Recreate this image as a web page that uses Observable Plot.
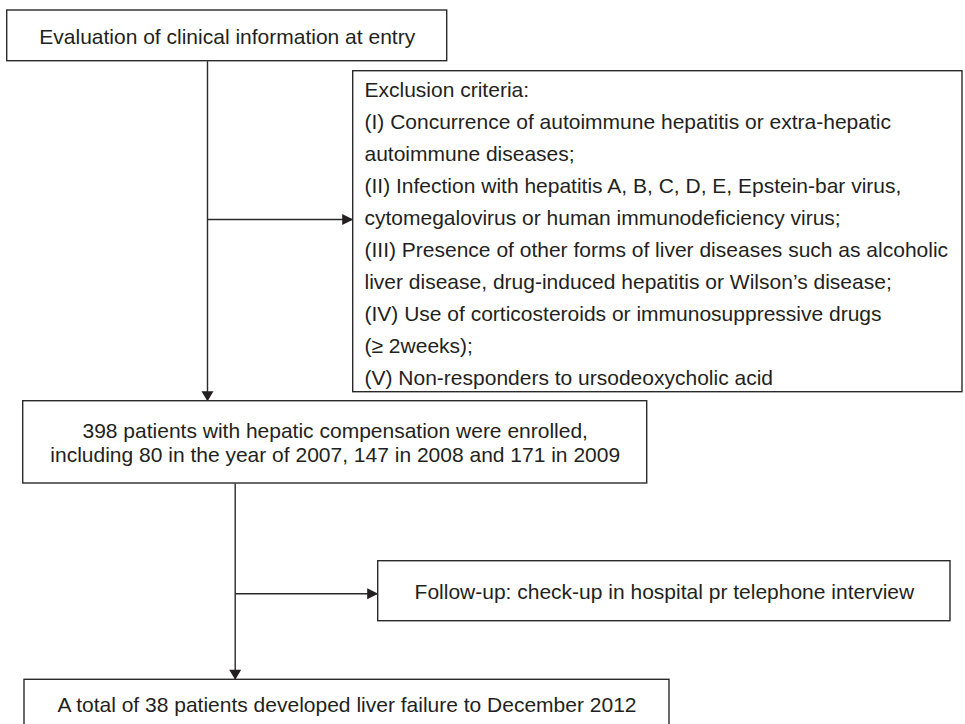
<!DOCTYPE html>
<html>
<head>
<meta charset="utf-8">
<script src="https://cdn.jsdelivr.net/npm/d3@7"></script>
<script src="https://cdn.jsdelivr.net/npm/@observablehq/plot@0.6"></script>
<style>
  html, body { margin: 0; padding: 0; background: #fff; overflow: hidden; }
  svg { display: block; overflow: hidden; }
</style>
</head>
<body>
<div id="chart"></div>
<script>
// ---- Content (texts of the flowchart) ----
const stepLabels = [
  "Evaluation of clinical information at entry",
  "398 patients with hepatic compensation were enrolled,\nincluding 80 in the year of 2007, 147 in 2008 and 171 in 2009",
  "Follow-up: check-up in hospital pr telephone interview",
  "A total of 38 patients developed liver failure to December 2012"
];
const exclusionLines = [
  "Exclusion criteria:",
  "(I) Concurrence of autoimmune hepatitis or extra-hepatic",
  "autoimmune diseases;",
  "(II) Infection with hepatitis A, B, C, D, E, Epstein-bar virus,",
  "cytomegalovirus or human immunodeficiency virus;",
  "(III) Presence of other forms of liver diseases such as alcoholic",
  "liver disease, drug-induced hepatitis or Wilson\u2019s disease;",
  "(IV) Use of corticosteroids or immunosuppressive drugs",
  "(\u2265 2weeks);",
  "(V) Non-responders to ursodeoxycholic acid"
];

// ---- Layout (page coordinates, px) ----
const stepBoxes = [
  {x1: 6.7,   x2: 446.7, y1: 10,    y2: 60.7},
  {x1: 22.7,  x2: 646.7, y1: 400.7, y2: 483},
  {x1: 377.7, x2: 950,   y1: 560.7, y2: 620.7},
  {x1: 24,    x2: 669,   y1: 679.3, y2: 740}
];
const stepTextY = [35.5, 441.5, 591, 703.5];
const exclusionBox = {x1: 352.7, x2: 962, y1: 70.7, y2: 391.7};
const exclusionTextX = 364;
const exclusionFirstLineY = 86;
const exclusionLineStep = 32;

// connectors: from (x1,y1) to (x2,y2), arrowhead at the end
const connectors = [
  {x1: 207,   y1: 60.7,  x2: 207,   y2: 400.7, dir: "down"},
  {x1: 207,   y1: 219,   x2: 352.7, y2: 219,   dir: "right"},
  {x1: 234.7, y1: 483,   x2: 234.7, y2: 679.3, dir: "down"},
  {x1: 234.7, y1: 593.3, x2: 377.7, y2: 593.3, dir: "right"}
];

// ---- Build tables for Plot ----
const boxes = stepBoxes.map((b, i) => ({...b, label: stepLabels[i], cx: (b.x1 + b.x2) / 2, cy: stepTextY[i]}));
boxes.push({...exclusionBox});
const nEx = exclusionLines.length;
const exclusionText = [{
  x: exclusionTextX,
  y: exclusionFirstLineY + exclusionLineStep * (nEx - 1) / 2,
  label: exclusionLines.join("\n")
}];

const triDown = {draw(ctx) { ctx.moveTo(-6, -10); ctx.lineTo(6, -10); ctx.lineTo(0, 0); ctx.closePath(); }};
const triRight = {draw(ctx) { ctx.moveTo(-11, -5.5); ctx.lineTo(-11, 5.5); ctx.lineTo(0, 0); ctx.closePath(); }};

const W = 965, H = 724;
const ink = "#231f20";
const line = "#2a2a2a";
const font = "'Liberation Sans', Arial, Helvetica, sans-serif";

const chart = Plot.plot({
  width: W,
  height: H,
  margin: 0,
  x: {domain: [0, W], range: [0, W], axis: null},
  y: {domain: [0, H], range: [0, H], axis: null},
  style: {fontFamily: font, background: "#fff", color: ink, overflow: "hidden"},
  marks: [
    Plot.link(connectors, {x1: "x1", y1: "y1", x2: "x2", y2: "y2", stroke: line, strokeWidth: 1.4}),
    Plot.dot(connectors.filter(d => d.dir === "down"), {x: "x2", y: "y2", symbol: triDown, fill: ink, stroke: "none"}),
    Plot.dot(connectors.filter(d => d.dir === "right"), {x: "x2", y: "y2", symbol: triRight, fill: ink, stroke: "none"}),
    Plot.rect(boxes, {x1: "x1", x2: "x2", y1: "y1", y2: "y2", fill: "#fff", stroke: line, strokeWidth: 1.4}),
    Plot.text(boxes.filter(d => d.label), {x: "cx", y: "cy", text: "label", fontSize: 21, fill: ink, lineHeight: 1.15, textAnchor: "middle"}),
    Plot.text(exclusionText, {x: "x", y: "y", text: "label", fontSize: 21, fill: ink, lineHeight: exclusionLineStep / 21, textAnchor: "start"})
  ]
});
document.getElementById("chart").appendChild(chart);
</script>
</body>
</html>
